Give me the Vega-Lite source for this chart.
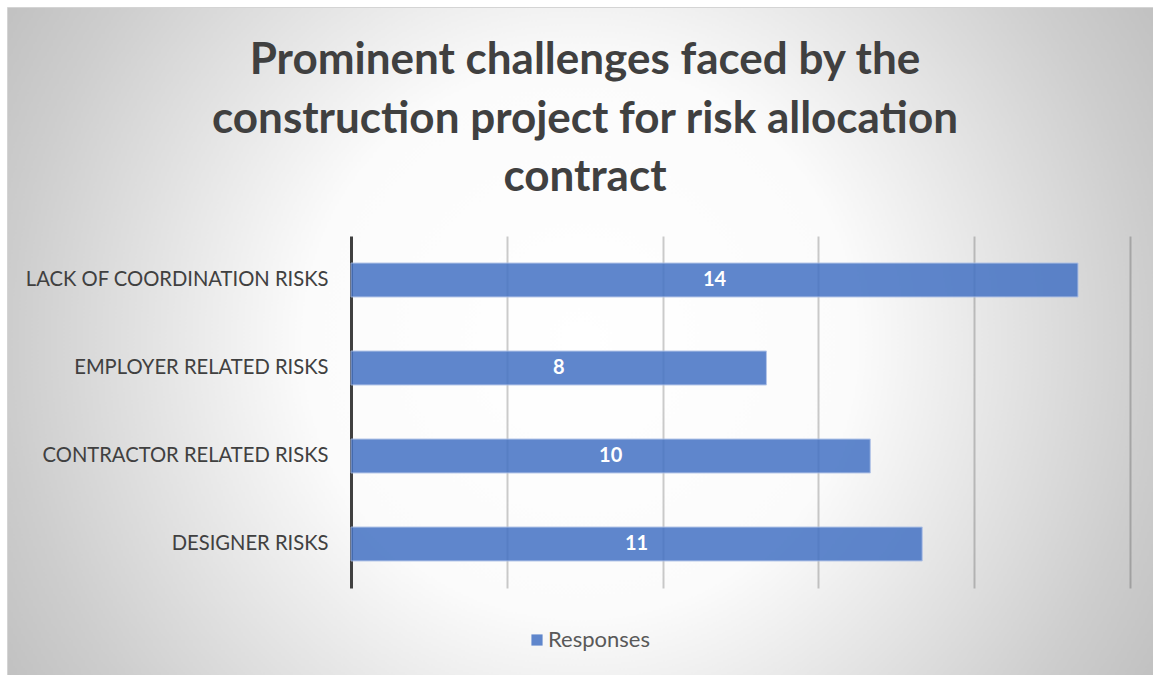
{
  "$schema": "https://vega.github.io/schema/vega-lite/v6.json",
  "width": 1146,
  "height": 668,
  "autosize": "none",
  "padding": {"left": 7, "top": 7, "right": 0, "bottom": 0},
  "background": "white",
  "config": {
    "font": "Lato",
    "view": {
      "fill": {
        "gradient": "radial",
        "x1": 0.5, "y1": 0.5, "x2": 0.5, "y2": 0.5,
        "r1": 0, "r2": 0.6,
        "stops": [
          {"offset": 0, "color": "#ffffff"},
          {"offset": 0.4, "color": "#fbfbfb"},
          {"offset": 0.83, "color": "#cdcdcd"},
          {"offset": 0.965, "color": "#c1c1c1"},
          {"offset": 1, "color": "#bfbfbf"}
        ]
      },
      "stroke": "#d4d4d4",
      "strokeWidth": 1
    }
  },
  "title": {
    "text": ["Prominent challenges faced by the", "construction project for risk allocation", "contract"],
    "font": "Lato",
    "fontSize": 44,
    "fontWeight": "bold",
    "color": "#404040",
    "anchor": "middle",
    "baseline": "bottom",
    "lineHeight": 58.5,
    "offset": -237,
    "dx": 5
  },
  "data": {
    "values": [
      {"Category": "LACK OF COORDINATION RISKS", "Responses": 14},
      {"Category": "EMPLOYER RELATED RISKS", "Responses": 8},
      {"Category": "CONTRACTOR RELATED RISKS", "Responses": 10},
      {"Category": "DESIGNER RISKS", "Responses": 11}
    ]
  },
  "encoding": {
    "y": {
      "field": "Category",
      "type": "nominal",
      "sort": null,
      "scale": {"range": [229, 581], "paddingInner": 0.614, "paddingOuter": 0.307},
      "axis": {
        "title": null,
        "offset": -344,
        "labelPadding": 23,
        "ticks": false,
        "tickSize": 0,
        "grid": false,
        "domainColor": "#404040",
        "domainWidth": 3,
        "labelFont": "Lato",
        "labelFontSize": 20.2,
        "labelColor": "#404040",
        "labelLimit": 400
      }
    }
  },
  "layer": [
    {
      "mark": {"type": "bar", "opacity": 0.85, "stroke": "#a9bde6", "strokeWidth": 1},
      "encoding": {
        "x": {
          "field": "Responses",
          "type": "quantitative",
          "scale": {"domain": [-6.624, 15.444], "nice": false, "zero": false},
          "axis": {
            "orient": "top",
            "values": [3, 6, 9, 12, 15],
            "labels": false,
            "ticks": false,
            "domain": false,
            "title": null,
            "grid": true,
            "gridColor": "#000000",
            "gridOpacity": 0.2,
            "gridWidth": 2
          }
        },
        "color": {
          "datum": "Responses",
          "type": "nominal",
          "scale": {"range": ["#4472C4"]},
          "legend": {
            "orient": "none",
            "legendX": 519,
            "legendY": 622,
            "title": null,
            "symbolType": "square",
            "symbolSize": 125,
            "symbolOpacity": 0.85,
            "symbolStrokeWidth": 0,
            "labelFont": "Lato",
            "labelFontSize": 22,
            "labelColor": "#595959",
            "labelOffset": 0
          }
        }
      }
    },
    {
      "mark": {"type": "text", "color": "white", "font": "Lato", "fontSize": 20, "fontWeight": "bold"},
      "encoding": {
        "x": {
          "field": "Responses",
          "type": "quantitative",
          "scale": {"domain": [-13.248, 30.888], "nice": false, "zero": false},
          "axis": null
        },
        "text": {"field": "Responses", "type": "quantitative"}
      }
    }
  ],
  "resolve": {"scale": {"x": "independent"}}
}
